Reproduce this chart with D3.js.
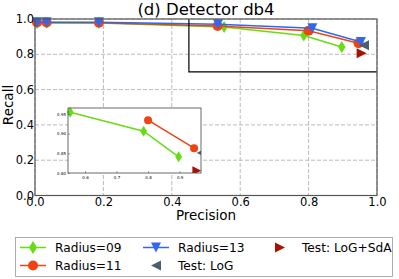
<!DOCTYPE html>
<html>
<head>
<meta charset="utf-8">
<script src="https://cdn.jsdelivr.net/npm/d3@7"></script>
<style>
  body { margin: 0; background: #fff; }
  text { font-family: "DejaVu Sans", sans-serif; }
</style>
</head>
<body>
<svg width="399" height="279"></svg>
<script>
const width = 399;
const height = 279;

// data
const r09_precision = [0.006, 0.034, 0.187, 0.553, 0.786, 0.897];
const r09_recall = [0.978, 0.978, 0.978, 0.954, 0.906, 0.841];
const r11_precision = [0.006, 0.034, 0.187, 0.534, 0.80, 0.946];
const r11_recall = [0.98, 0.98, 0.979, 0.96, 0.934, 0.863];
const r13_precision = [0.006, 0.034, 0.187, 0.535, 0.811, 0.953];
const r13_recall = [0.982, 0.982, 0.981, 0.97, 0.947, 0.87];
const log_point = [0.962, 0.851];
const logsda_point = [0.955, 0.806];
const main_ticks = [0.0, 0.2, 0.4, 0.6, 0.8, 1.0];
const inset_xticks = [0.6, 0.7, 0.8, 0.9];
const inset_yticks = [0.80, 0.85, 0.90, 0.95];

const green = "#66dd11";
const red = "#ee4411";
const blue = "#3366ee";
const slate = "#4a5f70";
const darkred = "#aa1100";

let svg = d3.select("svg");

const m = { left: 35, right: 377, top: 19, bottom: 195.5 };
const x = d3.scaleLinear().domain([0, 1]).range([m.left, m.right]);
const y = d3.scaleLinear().domain([0, 1]).range([m.bottom, m.top]);

function markerPath(kind, s) {
  // s = half size
  if (kind === "diamond") return `M0,${-s} L${s * 0.62},0 L0,${s} L${-s * 0.62},0 Z`;
  if (kind === "down") return `M${-s},${-s} L${s},${-s} L0,${s} Z`;
  if (kind === "left") return `M${s},${-s} L${s},${s} L${-s},0 Z`;
  if (kind === "right") return `M${-s},${-s} L${-s},${s} L${s},0 Z`;
  return null;
}

function DrawMarker(g, px, py, kind, color, s) {
  if (kind === "circle") {
    g.append("circle").attr("cx", px).attr("cy", py).attr("r", s).attr("fill", color);
  } else {
    g.append("path")
      .attr("d", markerPath(kind, s))
      .attr("transform", `translate(${px},${py})`)
      .attr("fill", color);
  }
}

function DrawSeries(g, xs, ys, sx, sy, color, kind, s) {
  const pts = xs.map((v, i) => [sx(v), sy(ys[i])]);
  g.append("path")
    .attr("d", d3.line()(pts))
    .attr("fill", "none")
    .attr("stroke", color)
    .attr("stroke-width", 1.5);
  pts.forEach(p => DrawMarker(g, p[0], p[1], kind, color, s));
}

// grid
let grid = svg.append("g");
main_ticks.forEach(t => {
  grid.append("line")
    .attr("x1", x(t)).attr("x2", x(t)).attr("y1", m.top).attr("y2", m.bottom)
    .attr("stroke", "#aaaaaa").attr("stroke-width", 0.8).attr("stroke-dasharray", "4,2");
  grid.append("line")
    .attr("y1", y(t)).attr("y2", y(t)).attr("x1", m.left).attr("x2", m.right)
    .attr("stroke", "#aaaaaa").attr("stroke-width", 0.8).attr("stroke-dasharray", "4,2");
});

// main series
let plot = svg.append("g");
DrawSeries(plot, r09_precision, r09_recall, x, y, green, "diamond", 6);
DrawSeries(plot, r11_precision, r11_recall, x, y, red, "circle", 5);
DrawSeries(plot, r13_precision, r13_recall, x, y, blue, "down", 5);
DrawMarker(plot, x(log_point[0]), y(log_point[1]), "left", slate, 5);
DrawMarker(plot, x(logsda_point[0]), y(logsda_point[1]), "right", darkred, 5);

// zoom region indicator
svg.append("path")
  .attr("d", d3.line()([[x(0.45), y(1)], [x(0.45), y(0.7)], [x(1), y(0.7)]]))
  .attr("fill", "none").attr("stroke", "black").attr("stroke-width", 1.2);

// frame
svg.append("rect")
  .attr("x", m.left).attr("y", m.top)
  .attr("width", m.right - m.left).attr("height", m.bottom - m.top)
  .attr("fill", "none").attr("stroke", "#555555").attr("stroke-width", 1.2);

// axes ticks
const xAxis = svg.append("g").attr("transform", `translate(0,${m.bottom})`)
  .call(d3.axisBottom(x).tickValues(main_ticks).tickFormat(d3.format(".1f")).tickSize(0).tickPadding(2.5));
const yAxis = svg.append("g").attr("transform", `translate(${m.left},0)`)
  .call(d3.axisLeft(y).tickValues(main_ticks).tickFormat(d3.format(".1f")).tickSize(0).tickPadding(1));
[xAxis, yAxis].forEach(a => {
  a.select(".domain").remove();
  a.selectAll("text").style("font-size", "11.5px").attr("fill", "#000");
});

// title and labels
svg.append("text").attr("x", 206).attr("y", 14.5).attr("text-anchor", "middle")
  .style("font-size", "16.5px").text("(d) Detector db4");
svg.append("text").attr("x", 206).attr("y", 220).attr("text-anchor", "middle")
  .style("font-size", "13.5px").text("Precision");
svg.append("text").attr("transform", "translate(13,105) rotate(-90)").attr("text-anchor", "middle")
  .style("font-size", "13.5px").text("Recall");

// inset
const ins = { left: 68, right: 201, top: 108, bottom: 173 };
const ix = d3.scaleLinear().domain([0.546, 0.968]).range([ins.left, ins.right]);
const iy = d3.scaleLinear().domain([0.80, 0.965]).range([ins.bottom, ins.top]);
let inset = svg.append("g");
inset.append("rect")
  .attr("x", ins.left).attr("y", ins.top)
  .attr("width", ins.right - ins.left).attr("height", ins.bottom - ins.top)
  .attr("fill", "white");
inset.append("clipPath").attr("id", "insclip").append("rect")
  .attr("x", ins.left - 4).attr("y", ins.top - 6)
  .attr("width", ins.right - ins.left + 4).attr("height", ins.bottom - ins.top + 6);
let insplot = inset.append("g").attr("clip-path", "url(#insclip)");
let r09_in = r09_precision.map((v, i) => [v, r09_recall[i]]).filter(d => d[0] > 0.5);
let r11_in = r11_precision.map((v, i) => [v, r11_recall[i]]).filter(d => d[0] > 0.6);
DrawSeries(insplot, r09_in.map(d => d[0]), r09_in.map(d => d[1]), ix, iy, green, "diamond", 5.5);
DrawSeries(insplot, r11_in.map(d => d[0]), r11_in.map(d => d[1]), ix, iy, red, "circle", 4);
DrawMarker(insplot, ix(log_point[0]) + 2, iy(log_point[1]), "left", slate, 4.5);
DrawMarker(insplot, ix(logsda_point[0]), iy(logsda_point[1]), "right", darkred, 4.5);
inset.append("rect")
  .attr("x", ins.left).attr("y", ins.top)
  .attr("width", ins.right - ins.left).attr("height", ins.bottom - ins.top)
  .attr("fill", "none").attr("stroke", "#444444").attr("stroke-width", 0.8);
const ixAxis = inset.append("g").attr("transform", `translate(0,${ins.bottom})`)
  .call(d3.axisBottom(ix).tickValues(inset_xticks).tickFormat(d3.format(".1f")).tickSize(-2).tickPadding(3));
const iyAxis = inset.append("g").attr("transform", `translate(${ins.left},0)`)
  .call(d3.axisLeft(iy).tickValues(inset_yticks).tickFormat(d3.format(".2f")).tickSize(-2).tickPadding(2));
[ixAxis, iyAxis].forEach(a => {
  a.select(".domain").remove();
  a.selectAll("line").attr("stroke", "#444").attr("stroke-width", 0.5);
  a.selectAll("text").style("font-size", "4px").attr("fill", "#000");
});

// legend
let legend = svg.append("g");
legend.append("rect").attr("x", 15.5).attr("y", 237.5).attr("width", 377).attr("height", 39)
  .attr("fill", "white").attr("stroke", "#999999").attr("stroke-width", 0.8);
const legend_items = [
  { label: "Radius=09", color: green, kind: "diamond", line: true, cx: 33, cy: 247.5, s: 6.5 },
  { label: "Radius=11", color: red, kind: "circle", line: true, cx: 33, cy: 265.5, s: 5 },
  { label: "Radius=13", color: blue, kind: "down", line: true, cx: 156, cy: 247.5, s: 5 },
  { label: "Test: LoG", color: slate, kind: "left", line: false, cx: 156, cy: 265.5, s: 5 },
  { label: "Test: LoG+SdA", color: darkred, kind: "right", line: false, cx: 280, cy: 247.5, s: 5 }
];
legend_items.forEach(d => {
  if (d.line) {
    legend.append("line").attr("x1", d.cx - 13).attr("x2", d.cx + 13)
      .attr("y1", d.cy).attr("y2", d.cy).attr("stroke", d.color).attr("stroke-width", 1.5);
  }
  DrawMarker(legend, d.cx, d.cy, d.kind, d.color, d.s);
  legend.append("text").attr("x", d.cx + 22).attr("y", d.cy + 4.5)
    .style("font-size", "12.2px").text(d.label);
});
</script>
</body>
</html>
